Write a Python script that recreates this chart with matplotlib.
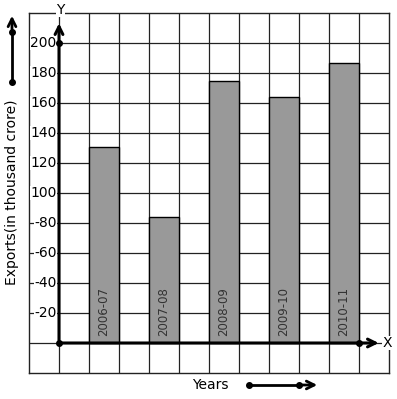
import matplotlib.pyplot as plt

years = ['2006-07', '2007-08', '2008-09', '2009-10', '2010-11']
exports = [131, 84, 175, 164, 187]
bar_pos = [1.5, 3.5, 5.5, 7.5, 9.5]
yticks = [20, 40, 60, 80, 100, 120, 140, 160, 180, 200]
ylabels = ['-20', '-40', '-60', '-80', '100', '120', '140', '160', '180', '200']

fig = plt.figure(figsize=(3.97, 3.99), dpi=100)
ax = fig.add_axes([29 / 397, 26 / 399, 360 / 397, 360 / 399])
ax.set_xlim(-1, 11)
ax.set_ylim(-20, 220)
ax.set_xticks([])
ax.set_yticks([])
for s in ax.spines.values():
    s.set_linewidth(1.0)
    s.set_color('#222222')

# grid
for gx in range(0, 11):
    ax.axvline(gx, color='#222222', lw=0.9, zorder=1)
for gy in range(0, 220, 20):
    ax.axhline(gy, color='#222222', lw=0.9, zorder=1)

ax.bar(bar_pos, exports, width=1.0, color='#999999', edgecolor='black', lw=1.0, zorder=2)
for x, lab in zip(bar_pos, years):
    ax.text(x, 5, lab, rotation=90, ha='center', va='bottom', fontsize=8.5,
            color='#333333', zorder=3)

# y tick labels with white background over the grid
for y, lab in zip(yticks, ylabels):
    ax.text(-0.08, y, lab, ha='right', va='center', fontsize=10, zorder=3,
            bbox=dict(facecolor='white', edgecolor='none', pad=0.3))

# axes arrows
ax.annotate('', xy=(10.75, 0), xytext=(0, 0),
            arrowprops=dict(arrowstyle='->', lw=2.2, color='black', mutation_scale=14),
            zorder=4, annotation_clip=False)
ax.annotate('', xy=(0, 215), xytext=(0, 0),
            arrowprops=dict(arrowstyle='->', lw=2.2, color='black', mutation_scale=14),
            zorder=4, annotation_clip=False)
ax.plot([0, 0, 10], [0, 200, 0], 'o', color='black', ms=4, zorder=5, clip_on=False)
ax.text(10.95, 0, 'X', ha='center', va='center', fontsize=10, zorder=5,
        bbox=dict(facecolor='white', edgecolor='none', pad=0.2), clip_on=False)
ax.text(0.05, 222, 'Y', ha='center', va='center', fontsize=10, zorder=5,
        bbox=dict(facecolor='white', edgecolor='none', pad=0.2), clip_on=False)

# side decorations
fig.text(12 / 397, 1 - 192 / 399, 'Exports(in thousand crore)', rotation=90,
         ha='center', va='center', fontsize=10)
fig.text(210 / 397, 1 - 385 / 399, 'Years', ha='center', va='center', fontsize=10)
fig.add_artist(plt.Line2D([12 / 397, 12 / 397], [1 - 82 / 399, 1 - 32 / 399],
                          color='black', lw=2, marker='o', ms=4))
fig.add_artist(plt.Line2D([249 / 397, 299 / 397], [1 - 385 / 399, 1 - 385 / 399],
                          color='black', lw=2, marker='o', ms=4))
ax.annotate('', xy=(12, 399 - 13), xytext=(12, 399 - 32), xycoords='figure pixels',
            textcoords='figure pixels',
            arrowprops=dict(arrowstyle='->', lw=2, color='black', mutation_scale=14))
ax.annotate('', xy=(320, 399 - 385), xytext=(299, 399 - 385), xycoords='figure pixels',
            textcoords='figure pixels',
            arrowprops=dict(arrowstyle='->', lw=2, color='black', mutation_scale=14))

fig.savefig('out.png', dpi=100)
